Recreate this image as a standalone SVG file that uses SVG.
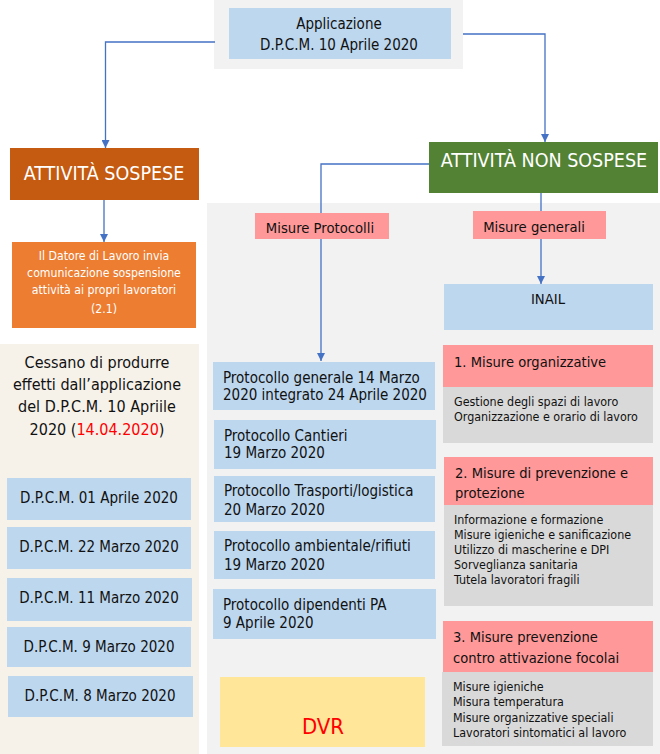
<svg xmlns="http://www.w3.org/2000/svg" width="660" height="754" viewBox="0 0 660 754">
<style>
text{font-family:"DejaVu Sans Condensed","DejaVu Sans",sans-serif;font-stretch:condensed;fill:#111}
.c{text-anchor:middle}
.w{fill:#fff}
.blue{fill:#BDD7EE}
.pink{fill:#FF9999}
.gb{fill:#D9D9D9}
.conn{fill:none;stroke:#4472C4;stroke-width:1.3}
.t15{font-size:15px}
.t14{font-size:14.7px}
.t12{font-size:12.4px}
.h{font-size:14.6px}
</style>
<defs>
<marker id="arr" viewBox="0 0 10 10" refX="10" refY="5" markerWidth="8" markerHeight="8" markerUnits="userSpaceOnUse" orient="auto">
<path d="M0,0 L10,5 L0,10 z" fill="#4472C4"/>
</marker>
</defs>
<g id="panels">
<rect x="214" y="0" width="249" height="69" fill="#F2F2F2"/>
<rect x="0" y="344" width="199" height="410" fill="#F6F2EA"/>
<rect x="207" y="203" width="453" height="551" fill="#F2F2F2"/>
</g>
<g id="connectors">
<path class="conn" d="M215,42 H105.5 V148" marker-end="url(#arr)"/>
<path class="conn" d="M463,34 H545 V142" marker-end="url(#arr)"/>
<path class="conn" d="M104,200 V242" marker-end="url(#arr)"/>
<path class="conn" d="M429,164 H321 V361" marker-end="url(#arr)"/>
<path class="conn" d="M541,193 V284" marker-end="url(#arr)"/>
</g>
<g id="applicazione">
<rect class="blue" x="229" y="8" width="222" height="51"/>
<text class="c t15" x="339" y="29">Applicazione</text>
<text class="c t15" x="339" y="50">D.P.C.M. 10 Aprile 2020</text>
</g>
<g id="sospese">
<rect x="10" y="148" width="189" height="52" fill="#C55A11"/>
<text class="c w" x="104" y="180" font-size="19.5">ATTIVITÀ SOSPESE</text>
</g>
<g id="non-sospese">
<rect x="429" y="142" width="229" height="51" fill="#548235"/>
<text class="c w" x="544" y="167" font-size="19.5">ATTIVITÀ NON SOSPESE</text>
</g>
<g id="datore">
<rect x="12" y="242" width="184" height="86" fill="#ED7D31"/>
<text class="c w" x="104" y="260" font-size="12.2">Il Datore di Lavoro invia</text>
<text class="c w" x="104" y="277" font-size="12.2">comunicazione sospensione</text>
<text class="c w" x="104" y="294" font-size="12.2">attività ai propri lavoratori</text>
<text class="c w" x="104" y="313" font-size="12.2">(2.1)</text>
</g>
<g id="cessano">
<text class="c" x="97" y="368" font-size="16">Cessano di produrre</text>
<text class="c" x="97" y="390" font-size="16">effetti dall’applicazione</text>
<text class="c" x="97" y="412" font-size="16">del D.P.C.M. 10 Apriile</text>
<text class="c" x="97" y="435" font-size="16">2020 (<tspan fill="#FF0000">14.04.2020</tspan>)</text>
</g>
<g id="dpcm-01-aprile">
<rect class="blue" x="7" y="478" width="184" height="42"/>
<text class="c t15" x="99" y="503">D.P.C.M. 01 Aprile 2020</text>
</g>
<g id="dpcm-22-marzo">
<rect class="blue" x="7" y="527" width="184" height="42"/>
<text class="c t15" x="99" y="552">D.P.C.M. 22 Marzo 2020</text>
</g>
<g id="dpcm-11-marzo">
<rect class="blue" x="7" y="578" width="185" height="43"/>
<text class="c t15" x="99" y="603">D.P.C.M. 11 Marzo 2020</text>
</g>
<g id="dpcm-9-marzo">
<rect class="blue" x="7" y="627" width="184" height="40"/>
<text class="c t15" x="99" y="652">D.P.C.M. 9 Marzo 2020</text>
</g>
<g id="dpcm-8-marzo">
<rect class="blue" x="8" y="676" width="185" height="41"/>
<text class="c t15" x="100" y="701">D.P.C.M. 8 Marzo 2020</text>
</g>
<g id="misure-protocolli">
<rect class="pink" x="255" y="213" width="134" height="26"/>
<text class="c t14" x="320" y="233">Misure Protocolli</text>
</g>
<g id="misure-generali">
<rect class="pink" x="473" y="211" width="133" height="28"/>
<text class="c t14" x="534" y="232">Misure generali</text>
</g>
<g id="inail">
<rect class="blue" x="444" y="284" width="209" height="46"/>
<text class="c t14" x="548" y="304">INAIL</text>
</g>
<g id="prot-generale">
<rect class="blue" x="213" y="362" width="222" height="48"/>
<text class="t15" x="223" y="383">Protocollo generale 14 Marzo</text>
<text class="t15" x="223" y="400">2020 integrato 24 Aprile 2020</text>
</g>
<g id="prot-cantieri">
<rect class="blue" x="214" y="420" width="222" height="49"/>
<text class="t15" x="224" y="441">Protocollo Cantieri</text>
<text class="t15" x="224" y="458">19 Marzo 2020</text>
</g>
<g id="prot-trasporti">
<rect class="blue" x="214" y="476" width="221" height="46"/>
<text class="t15" x="224" y="496">Protocollo Trasporti/logistica</text>
<text class="t15" x="224" y="515">20 Marzo 2020</text>
</g>
<g id="prot-ambientale">
<rect class="blue" x="214" y="531" width="221" height="48"/>
<text class="t15" x="224" y="551">Protocollo ambientale/rifiuti</text>
<text class="t15" x="224" y="570">19 Marzo 2020</text>
</g>
<g id="prot-pa">
<rect class="blue" x="213" y="589" width="223" height="50"/>
<text class="t15" x="223" y="610">Protocollo dipendenti PA</text>
<text class="t15" x="223" y="628">9 Aprile 2020</text>
</g>
<g id="dvr">
<rect x="220" y="677" width="205" height="70" fill="#FFE699"/>
<text class="c" x="323" y="734" font-size="22" style="fill:#FF0000">DVR</text>
</g>
<g id="misure-organizzative">
<rect class="pink" x="443" y="345" width="210" height="42"/>
<rect class="gb" x="443" y="387" width="210" height="56"/>
<text class="h" x="454" y="367">1. Misure organizzative</text>
<text class="t12" x="454" y="406">Gestione degli spazi di lavoro</text>
<text class="t12" x="454" y="421">Organizzazione e orario di lavoro</text>
</g>
<g id="misure-prevenzione">
<rect class="pink" x="444" y="457" width="209" height="48"/>
<rect class="gb" x="444" y="505" width="209" height="101"/>
<text class="h" x="455" y="478">2. Misure di prevenzione e</text>
<text class="h" x="455" y="498">protezione</text>
<text class="t12" x="454" y="524">Informazione e formazione</text>
<text class="t12" x="454" y="539">Misure igieniche e sanificazione</text>
<text class="t12" x="454" y="554">Utilizzo  di mascherine e DPI</text>
<text class="t12" x="454" y="569">Sorveglianza sanitaria</text>
<text class="t12" x="454" y="584">Tutela lavoratori fragili</text>
</g>
<g id="misure-focolai">
<rect class="pink" x="443" y="621" width="210" height="51"/>
<rect class="gb" x="442" y="672" width="211" height="74"/>
<text class="h" x="453" y="642">3. Misure prevenzione</text>
<text class="h" x="453" y="663">contro attivazione focolai</text>
<text class="t12" x="453" y="691">Misure igieniche</text>
<text class="t12" x="453" y="706">Misura temperatura</text>
<text class="t12" x="453" y="722">Misure organizzative speciali</text>
<text class="t12" x="453" y="737">Lavoratori sintomatici al lavoro</text>
</g>
</svg>
